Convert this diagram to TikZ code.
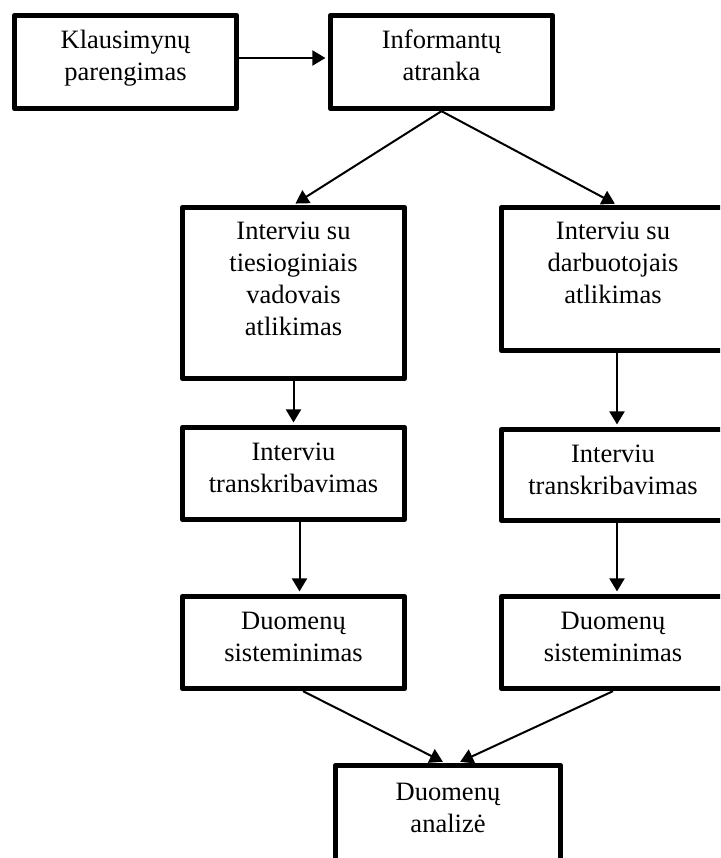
\documentclass[tikz,border=0pt]{standalone}
\usepackage{fontspec}
\setmainfont{Liberation Serif}
\usetikzlibrary{arrows.meta,calc}
\setlength{\tabcolsep}{0pt}
% centred lines whose baseline is the first line's
\newcommand{\stacktext}[1]{\begin{tabular}[t]{c}#1\end{tabular}}
\begin{document}
\begin{tikzpicture}[x=0.5pt,y=-0.5pt,
  stage/.style={draw,line width=2.4pt,line join=round,inner sep=0pt,
                minimum width=111.25pt,minimum height=46.75pt},
  widestage/.style={stage,minimum width=115.75pt},
  caption/.style={anchor=base,inner sep=0pt,font=\fontsize{13.25pt}{16pt}\selectfont},
  link/.style={line width=1pt,-{Triangle[length=6.5pt,width=7.5pt]},shorten >=1.2pt}]
\useasboundingbox (0,0) rectangle (720,858);
\fill[white] (0,0) rectangle (720,858);
\clip (0,0) rectangle (720,858);

% boxes
\node[stage] (b1) at (125.5,62) {};
\node[stage] (b2) at (441.5,62) {};
\node[stage,minimum height=85.75pt] (b3) at (293.5,293) {};
\node[widestage,minimum height=71.75pt] (b4) at (617,279) {};
\node[stage,minimum height=46.25pt] (b5) at (293.5,473.5) {};
\node[widestage,minimum height=45.75pt] (b6) at (617,475) {};
\node[stage,minimum height=46.25pt] (b7) at (293.5,642.5) {};
\node[widestage,minimum height=46.25pt] (b8) at (617,642.5) {};
\node[stage,minimum width=112.75pt,minimum height=66.25pt] (b9) at (448,831.5) {};

% captions, set from the top of each box
\node[caption] (t1) at ($(b1.north)+(0,36)$) {\stacktext{Klausimynų\\parengimas}};
\node[caption] (t2) at ($(b2.north)+(0,36)$) {\stacktext{Informantų\\atranka}};
\node[caption] (t3) at ($(b3.north)+(0,35)$) {\stacktext{Interviu su\\tiesioginiais\\vadovais\\atlikimas}};
\node[caption] (t4) at ($(b4.north)+(-4,35)$) {\stacktext{Interviu su\\darbuotojais\\atlikimas}};
\node[caption] (t5) at ($(b5.north)+(0,36)$) {\stacktext{Interviu\\transkribavimas}};
\node[caption] (t6) at ($(b6.north)+(-4,36)$) {\stacktext{Interviu\\transkribavimas}};
\node[caption] (t7) at ($(b7.north)+(0,36)$) {\stacktext{Duomenų\\sisteminimas}};
\node[caption] (t8) at ($(b8.north)+(-4,36)$) {\stacktext{Duomenų\\sisteminimas}};
\node[caption] (t9) at ($(b9.north)+(0,38)$) {\stacktext{Duomenų\\analizė}};

% connectors
\draw[link] ([yshift=2pt]b1.east) -- ([yshift=2pt]b1.east -| b2.west);
\draw[link] (b2.south) -- (b3.north);
\draw[link] (b2.south) -- (b4.north);
\draw[link] (b3.south) -- (b5.north);
\draw[link] ([xshift=3pt]b5.south) -- ([xshift=3pt]b7.north);
\draw[link] (b4.south) -- (b6.north);
\draw[link] (b6.south) -- (b8.north);
\draw[link] ([xshift=4.75pt]b7.south) -- ([xshift=-1.5pt]b9.north);
\draw[link] ([xshift=-2pt]b8.south) -- ([xshift=5pt]b9.north);
\end{tikzpicture}
\end{document}
